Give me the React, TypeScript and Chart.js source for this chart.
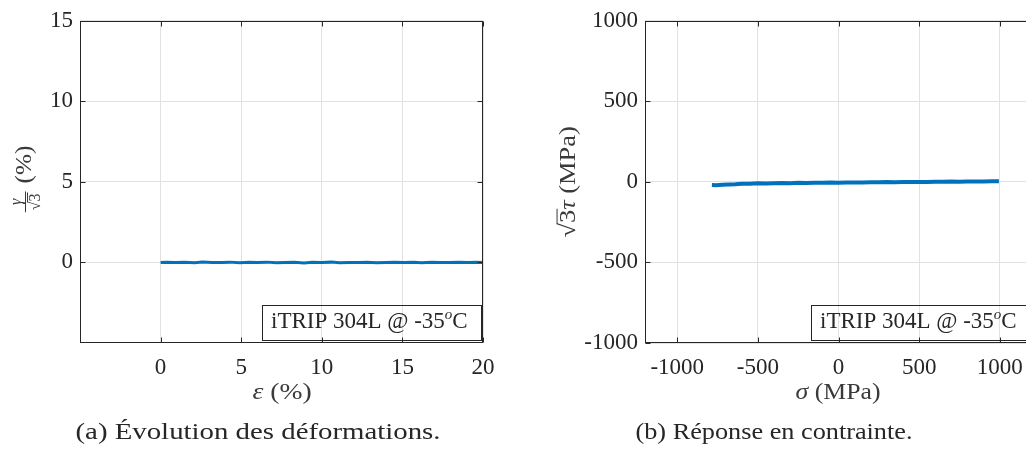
import React, { useEffect, useRef } from "react";
import { Chart, registerables } from "chart.js";

Chart.register(...registerables);

// ---------- data ----------
const strainPct = [0, 0.4, 0.9, 1.5, 2.1, 2.6, 3.2, 3.8, 4.3, 4.9, 5.5, 6.0, 6.6, 7.2, 7.7, 8.3, 8.9, 9.4, 10.0, 10.6, 11.1, 11.7, 12.3, 12.8, 13.4, 14.0, 14.5, 15.1, 15.7, 16.2, 16.8, 17.4, 17.9, 18.5, 19.1, 19.6, 19.95];
const shearStrainPct = [0.0, 0.02, -0.01, 0.01, -0.02, 0.03, -0.01, 0.0, 0.02, -0.02, 0.01, -0.01, 0.02, -0.02, 0.0, 0.01, -0.03, 0.01, -0.01, 0.02, -0.02, 0.0, -0.01, 0.01, -0.02, 0.0, 0.02, -0.01, 0.01, -0.02, 0.01, -0.01, 0.0, 0.02, -0.01, 0.01, 0.0];
const strainTicks = [0, 5, 10, 15, 20];
const shearTicks = [0, 5, 10, 15];

const sigmaMPa = [-785, -760, -720, -680, -640, -600, -550, -500, -450, -400, -350, -300, -250, -200, -150, -100, -50, 0, 50, 100, 150, 200, 250, 300, 350, 400, 450, 500, 550, 600, 650, 700, 750, 800, 850, 900, 950, 995];
const tauMPa = [-20, -21, -17, -16, -15, -12, -12, -9, -10, -8, -7, -8, -6, -7, -5, -5, -4, -5, -3, -3, -4, -2, -2, -1, -2, -1, 0, 0, -1, 1, 1, 2, 1, 2, 3, 3, 4, 4];
const stressTicks = [-1000, -500, 0, 500, 1000];

const legendMain = "iTRIP 304L @ -35";
const legendSup = "o";
const legendUnit = "C";
const captionA = "(a) Évolution des déformations.";
const captionB = "(b) Réponse en contrainte.";

// ---------- styles ----------
const FONT = '"Liberation Serif", "Times New Roman", serif';
const TEXT = "#262626";
const TITLE = "#3a3a3a";
const GRID = "#e2e2e2";
const LINE = "rgb(0,114,189)";
const FS = 23;

type Seg = { t: string; size?: number; italic?: boolean; dy?: number; overline?: boolean };

function segFont(s: Seg) {
  return `${s.italic ? "italic " : ""}${s.size ?? FS}px ${FONT}`;
}
function richWidth(ctx: CanvasRenderingContext2D, segs: Seg[]) {
  let w = 0;
  for (const s of segs) {
    ctx.font = segFont(s);
    w += ctx.measureText(s.t).width;
  }
  return w;
}
function drawRich(
  ctx: CanvasRenderingContext2D,
  segs: Seg[],
  x: number,
  baseline: number,
  align: "left" | "center",
  stretch = 1
) {
  const w = richWidth(ctx, segs);
  ctx.save();
  ctx.translate(x, baseline);
  ctx.scale(stretch, 1);
  let cx = align === "center" ? -w / 2 : 0;
  ctx.textAlign = "left";
  ctx.textBaseline = "alphabetic";
  for (const s of segs) {
    ctx.font = segFont(s);
    const sw = ctx.measureText(s.t).width;
    ctx.fillText(s.t, cx, s.dy ?? 0);
    if (s.overline) {
      const sz = s.size ?? FS;
      ctx.beginPath();
      ctx.lineWidth = 1;
      ctx.moveTo(cx - 1, -sz * 0.78);
      ctx.lineTo(cx + sw + 1, -sz * 0.78);
      ctx.stroke();
    }
    cx += sw;
  }
  ctx.restore();
  return w * stretch;
}

type FrameCfg = {
  id: string;
  offsetX: number;
  xTitle: Seg[];
  xTitleCenter: number;
  xTitleStretch: number;
  yTitleX: number;
  yTitleDraw: (ctx: CanvasRenderingContext2D) => void;
  caption: string;
  captionCenter: number;
  captionWidth: number;
};

function framePlugin(cfg: FrameCfg) {
  return {
    id: cfg.id,
    afterDraw(chart: any) {
      const { ctx, chartArea: a, scales } = chart;
      const xs = scales.x;
      const ys = scales.y;
      const L = Math.round(a.left) + 0.5;
      const R = Math.round(a.right) - 0.5;
      const T = Math.round(a.top) + 0.5;
      const B = Math.round(a.bottom) - 0.5;
      ctx.save();
      ctx.strokeStyle = TEXT;
      ctx.lineWidth = 1;
      ctx.strokeRect(L, T, R - L, B - T);
      const tl = 5;
      ctx.beginPath();
      for (const tk of xs.ticks) {
        const px = Math.round(xs.getPixelForValue(tk.value)) + 0.5;
        ctx.moveTo(px, B);
        ctx.lineTo(px, B - tl);
        ctx.moveTo(px, T);
        ctx.lineTo(px, T + tl);
      }
      for (const tk of ys.ticks) {
        const py = Math.round(ys.getPixelForValue(tk.value)) + 0.5;
        ctx.moveTo(L, py);
        ctx.lineTo(L + tl, py);
        ctx.moveTo(R, py);
        ctx.lineTo(R - tl, py);
      }
      ctx.stroke();

      // legend box
      ctx.fillStyle = TEXT;
      const segs: Seg[] = [
        { t: legendMain },
        { t: legendSup, size: 15, italic: true, dy: -9 },
        { t: legendUnit },
      ];
      const tw = richWidth(ctx, segs);
      const bw = Math.round(tw + 22);
      const bh = 35;
      const bx = Math.round(a.right) - 2 - bw;
      const by = Math.round(a.bottom) - 3 - bh;
      ctx.strokeRect(bx + 0.5, by + 0.5, bw, bh);
      drawRich(ctx, segs, bx + 9, by + 23, "left");

      // x title
      ctx.fillStyle = TITLE;
      ctx.strokeStyle = TITLE;
      drawRich(ctx, cfg.xTitle, cfg.xTitleCenter - cfg.offsetX, 399, "center", cfg.xTitleStretch);

      // y title
      ctx.save();
      ctx.translate(cfg.yTitleX - cfg.offsetX, (a.top + a.bottom) / 2);
      ctx.rotate(-Math.PI / 2);
      cfg.yTitleDraw(ctx);
      ctx.restore();

      // caption (fitted to the reference width)
      ctx.fillStyle = TEXT;
      ctx.font = `24px ${FONT}`;
      const cw = ctx.measureText(cfg.caption).width;
      ctx.save();
      ctx.translate(cfg.captionCenter - cfg.offsetX, 439);
      ctx.scale(cfg.captionWidth / cw, 1);
      ctx.textAlign = "center";
      ctx.textBaseline = "alphabetic";
      ctx.fillText(cfg.caption, 0, 0);
      ctx.restore();
      ctx.restore();
    },
  };
}

function drawGammaLabel(ctx: CanvasRenderingContext2D) {
  ctx.fillStyle = TITLE;
  ctx.strokeStyle = TITLE;
  const fs = 16;
  ctx.font = `${FS}px ${FONT}`;
  const pw = ctx.measureText("(%)").width * 1.1;
  ctx.font = `${fs}px ${FONT}`;
  const dw = ctx.measureText("√3").width;
  const fw = dw + 4;
  const gap = 8;
  const total = fw + gap + pw;
  const x0 = -total / 2 + 3;
  ctx.font = `italic ${fs}px ${FONT}`;
  ctx.textAlign = "center";
  ctx.textBaseline = "alphabetic";
  ctx.fillText("γ", x0 + fw / 2, -4);
  ctx.beginPath();
  ctx.lineWidth = 1;
  ctx.moveTo(x0, 0.5);
  ctx.lineTo(x0 + fw, 0.5);
  ctx.stroke();
  drawRich(ctx, [{ t: "√", size: fs }, { t: "3", size: fs, overline: true }], x0 + fw / 2, 15, "center");
  drawRich(ctx, [{ t: "(%)" }], x0 + fw + gap, 6, "left", 1.1);
}

function drawTauLabel(ctx: CanvasRenderingContext2D) {
  ctx.fillStyle = TITLE;
  ctx.strokeStyle = TITLE;
  drawRich(
    ctx,
    [{ t: "√" }, { t: "3", overline: true }, { t: "τ", italic: true }, { t: " (MPa)" }],
    0,
    7,
    "center",
    1.15
  );
}

function baseOptions(xMin: number, xMax: number, yMin: number, yMax: number, xT: number[], yT: number[], yAxisW: number, padRight: number) {
  const tickFont = { family: FONT, size: FS };
  return {
    responsive: false,
    animation: false as const,
    devicePixelRatio: 1,
    layout: { padding: { left: 0, top: 20, right: padRight, bottom: 0 } },
    plugins: { legend: { display: false }, tooltip: { enabled: false }, title: { display: false } },
    scales: {
      x: {
        type: "linear" as const,
        min: xMin,
        max: xMax,
        afterBuildTicks: (s: any) => {
          s.ticks = xT.map((v) => ({ value: v }));
        },
        afterFit: (s: any) => {
          s.height = 110;
        },
        grid: { color: GRID, drawTicks: false, lineWidth: 1 },
        border: { display: false },
        ticks: { font: tickFont, color: TEXT, padding: 11, maxRotation: 0, autoSkip: false, callback: (v: any) => String(v) },
      },
      y: {
        type: "linear" as const,
        min: yMin,
        max: yMax,
        afterBuildTicks: (s: any) => {
          s.ticks = yT.map((v) => ({ value: v }));
        },
        afterFit: (s: any) => {
          s.width = yAxisW;
        },
        grid: { color: GRID, drawTicks: false, lineWidth: 1 },
        border: { display: false },
        ticks: { font: tickFont, color: TEXT, padding: 7, autoSkip: false, callback: (v: any) => String(v) },
      },
    },
  };
}

function StrainChart() {
  const ref = useRef<HTMLCanvasElement>(null);
  useEffect(() => {
    const chart = new Chart(ref.current!, {
      type: "line",
      data: {
        datasets: [
          {
            data: strainPct.map((x, i) => ({ x, y: shearStrainPct[i] })),
            borderColor: LINE,
            borderWidth: 3,
            pointRadius: 0,
            tension: 0,
            fill: false,
          },
        ],
      },
      options: baseOptions(-5, 20, -5, 15, strainTicks, shearTicks, 80, 37) as any,
      plugins: [
        framePlugin({
          id: "frameA",
          offsetX: 0,
          xTitle: [{ t: "ε", italic: true }, { t: " (%)" }],
          xTitleCenter: 282,
          xTitleStretch: 1.2,
          yTitleX: 25,
          yTitleDraw: drawGammaLabel,
          caption: captionA,
          captionCenter: 258,
          captionWidth: 365,
        }),
      ],
    });
    return () => chart.destroy();
  }, []);
  return <canvas ref={ref} width={520} height={453} style={{ position: "absolute", left: 0, top: 0 }} />;
}

function StressChart() {
  const ref = useRef<HTMLCanvasElement>(null);
  useEffect(() => {
    const chart = new Chart(ref.current!, {
      type: "line",
      data: {
        datasets: [
          {
            data: sigmaMPa.map((x, i) => ({ x, y: tauMPa[i] })),
            borderColor: LINE,
            borderWidth: 4,
            pointRadius: 0,
            tension: 0,
            fill: false,
          },
        ],
      },
      options: baseOptions(-1200, 1200, -1000, 1000, stressTicks, stressTicks, 125, 8) as any,
      plugins: [
        framePlugin({
          id: "frameB",
          offsetX: 520,
          xTitle: [{ t: "σ", italic: true }, { t: " (MPa)" }],
          xTitleCenter: 838,
          xTitleStretch: 1.12,
          yTitleX: 568,
          yTitleDraw: drawTauLabel,
          caption: captionB,
          captionCenter: 774,
          captionWidth: 277,
        }),
      ],
    });
    return () => chart.destroy();
  }, []);
  return <canvas ref={ref} width={520} height={453} style={{ position: "absolute", left: 520, top: 0 }} />;
}

export default function App() {
  return (
    <div
      style={{
        position: "fixed",
        left: 0,
        top: 0,
        width: 1026,
        height: 453,
        overflow: "hidden",
        background: "#ffffff",
      }}
    >
      <StrainChart />
      <StressChart />
    </div>
  );
}
